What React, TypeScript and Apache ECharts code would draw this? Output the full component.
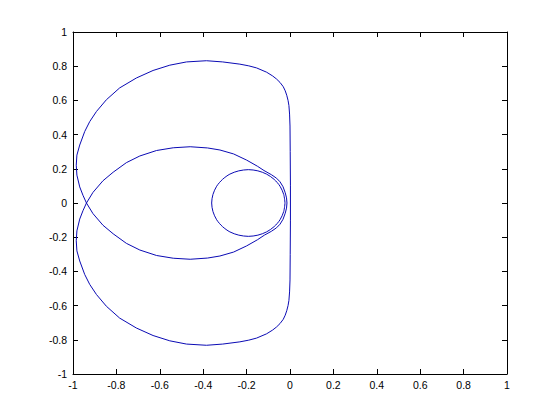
import React, { useEffect, useRef } from "react";
import * as echarts from "echarts";

// Upper outer arc: from the origin up the imaginary axis, round the top, down to the crossing
const outerUpperX = [0.002, 0.002, 0.001, 0.0, -0.002, -0.005, -0.009, -0.015, -0.022, -0.031, -0.046, -0.062, -0.08, -0.108, -0.154, -0.19, -0.231, -0.31, -0.385, -0.477, -0.554, -0.631, -0.708, -0.785, -0.846, -0.892, -0.923, -0.946, -0.969, -0.982, -0.985, -0.982, -0.969, -0.954, -0.938];
const outerUpperY = [0, 0.1, 0.3, 0.45, 0.52, 0.57, 0.6, 0.63, 0.656, 0.68, 0.705, 0.725, 0.743, 0.765, 0.79, 0.802, 0.812, 0.825, 0.832, 0.825, 0.806, 0.775, 0.731, 0.673, 0.604, 0.535, 0.476, 0.418, 0.339, 0.28, 0.221, 0.163, 0.094, 0.045, 0];

// Inner lower arc: from the crossing to the small loop
const innerLowerX = [-0.908, -0.862, -0.815, -0.754, -0.692, -0.615, -0.538, -0.46, -0.38, -0.323, -0.26, -0.2, -0.15, -0.118];
const innerLowerY = [-0.062, -0.13, -0.18, -0.236, -0.275, -0.307, -0.323, -0.329, -0.322, -0.31, -0.287, -0.251, -0.215, -0.188];

// Lower outer arc: from the origin down the imaginary axis, round the bottom, up to the crossing
const outerLowerX = [0.002, 0.002, 0.001, 0.0, -0.002, -0.005, -0.009, -0.015, -0.022, -0.031, -0.046, -0.062, -0.08, -0.108, -0.154, -0.19, -0.231, -0.31, -0.385, -0.477, -0.554, -0.631, -0.708, -0.785, -0.846, -0.892, -0.923, -0.946, -0.969, -0.982, -0.985, -0.982, -0.969, -0.954, -0.938];
const outerLowerY = [0, -0.1, -0.3, -0.45, -0.52, -0.57, -0.6, -0.63, -0.656, -0.68, -0.705, -0.725, -0.743, -0.765, -0.79, -0.802, -0.812, -0.825, -0.832, -0.825, -0.806, -0.775, -0.731, -0.673, -0.604, -0.535, -0.476, -0.418, -0.339, -0.28, -0.221, -0.163, -0.094, -0.045, 0];

// Inner upper arc: from the crossing to the small loop
const innerUpperX = [-0.908, -0.862, -0.815, -0.754, -0.692, -0.615, -0.538, -0.46, -0.38, -0.323, -0.26, -0.2, -0.15, -0.12];
const innerUpperY = [0.062, 0.13, 0.18, 0.236, 0.275, 0.307, 0.323, 0.329, 0.322, 0.31, 0.287, 0.251, 0.215, 0.19];

// First (outer) pass of the small loop, lower and upper halves
const loopLowerX = [-0.085, -0.062, -0.046, -0.032, -0.022, -0.016, -0.014];
const loopLowerY = [-0.165, -0.145, -0.124, -0.095, -0.06, -0.03, 0];
const loopUpperX = [-0.085, -0.062, -0.046, -0.032, -0.022, -0.016, -0.014];
const loopUpperY = [0.165, 0.145, 0.124, 0.095, 0.06, 0.03, 0];

// Limit circle
const circleX = [-0.023, -0.029, -0.046, -0.073, -0.108, -0.148, -0.192, -0.236, -0.277, -0.311, -0.338, -0.355, -0.361, -0.355, -0.338, -0.311, -0.277, -0.236, -0.192, -0.148, -0.108, -0.073, -0.046, -0.029, -0.023];
const circleY = [0, 0.05, 0.098, 0.138, 0.169, 0.188, 0.195, 0.188, 0.169, 0.138, 0.098, 0.05, 0, -0.05, -0.098, -0.138, -0.169, -0.188, -0.195, -0.188, -0.169, -0.138, -0.098, -0.05, 0];

const zip = (xs: number[], ys: number[]) => xs.map((x, i) => [x, ys[i]]);

const LINE_COLOR = "#0a0ab4";
const FONT = "'Liberation Sans', Arial, Helvetica, sans-serif";

export default function App() {
  const ref = useRef<HTMLDivElement>(null);
  useEffect(() => {
    const chart = echarts.init(ref.current!, null, { renderer: "svg" });
    const axisBase = {
      type: "value" as const,
      min: -1,
      max: 1,
      interval: 0.2,
      axisLine: { show: true, onZero: false, lineStyle: { color: "#000", width: 1 } },
      axisTick: { show: true, inside: true, length: 5, lineStyle: { color: "#000", width: 1 } },
      splitLine: { show: false },
      minorTick: { show: false },
    };
    const seriesBase = {
      type: "line" as const,
      showSymbol: false,
      symbol: "none",
      smooth: false,
      xAxisIndex: 0,
      yAxisIndex: 0,
      lineStyle: { color: LINE_COLOR, width: 1, join: "round" as const },
      itemStyle: { color: LINE_COLOR },
      silent: true,
    };
    chart.setOption({
      animation: false,
      backgroundColor: "#fff",
      grid: { left: 73, right: 53, top: 32, bottom: 46, containLabel: false },
      xAxis: [
        {
          ...axisBase,
          position: "bottom",
          axisLabel: { color: "#000", fontFamily: FONT, fontSize: 10.5, margin: 5 },
        },
        {
          ...axisBase,
          position: "top",
          axisLabel: { show: false },
        },
      ],
      yAxis: [
        {
          ...axisBase,
          position: "left",
          axisLabel: { color: "#000", fontFamily: FONT, fontSize: 10.5, margin: 6 },
        },
        {
          ...axisBase,
          position: "right",
          axisLabel: { show: false },
        },
      ],
      series: [
        { ...seriesBase, data: zip([...outerUpperX, ...innerLowerX, ...loopLowerX], [...outerUpperY, ...innerLowerY, ...loopLowerY]) },
        { ...seriesBase, data: zip([...outerLowerX, ...innerUpperX, ...loopUpperX], [...outerLowerY, ...innerUpperY, ...loopUpperY]) },
        { ...seriesBase, smooth: 0.3, data: zip(circleX, circleY) },
      ],
    });
    return () => chart.dispose();
  }, []);
  return (
    <div
      ref={ref}
      style={{ position: "fixed", left: 0, top: 0, width: 560, height: 420, background: "#fff" }}
    />
  );
}
